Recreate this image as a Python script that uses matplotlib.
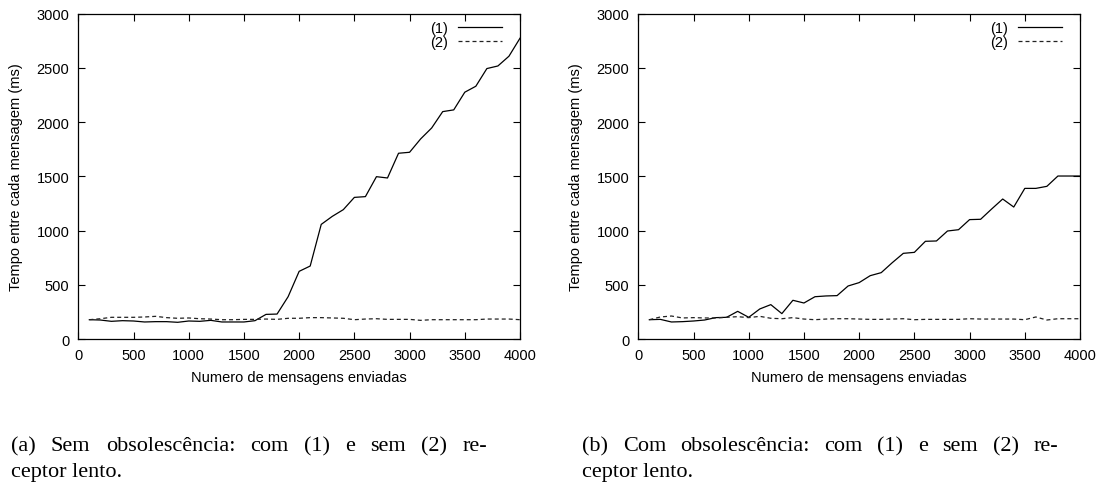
import matplotlib
matplotlib.use("Agg")
import matplotlib.pyplot as plt

msgs = list(range(100, 4001, 100))

sem_obs_1 = [178, 175, 163, 169, 166, 157, 160, 160, 154, 166,
             163, 172, 157, 157, 157, 169, 227, 230, 390, 624,
             673, 1057, 1131, 1193, 1306, 1313, 1497, 1485, 1713, 1722,
             1845, 1946, 2097, 2113, 2276, 2331, 2494, 2518, 2608, 2774]
sem_obs_2 = [178, 187, 200, 200, 200, 203, 209, 197, 191, 194,
             187, 184, 178, 178, 181, 181, 184, 181, 191, 191,
             197, 197, 194, 191, 178, 184, 187, 181, 181, 181,
             172, 178, 178, 178, 178, 178, 184, 184, 184, 178]

com_obs_1 = [178, 181, 157, 160, 166, 175, 197, 200, 255, 200,
             277, 317, 234, 357, 332, 390, 397, 400, 489, 520,
             584, 612, 704, 790, 799, 901, 904, 996, 1008, 1101,
             1104, 1199, 1291, 1217, 1389, 1389, 1408, 1503, 1503, 1503]
com_obs_2 = [178, 203, 212, 194, 197, 194, 194, 200, 206, 197,
             209, 191, 187, 197, 184, 178, 184, 187, 187, 184,
             181, 181, 184, 187, 178, 181, 181, 181, 181, 187,
             184, 184, 184, 184, 178, 203, 175, 187, 187, 187]

series_labels = ["(1)", "(2)"]
x_label = "Numero de mensagens enviadas"
y_label = "Tempo entre cada mensagem (ms)"
caption_lines = [
    ["(a) Sem obsolescência: com (1) e sem (2) re-", "ceptor lento."],
    ["(b) Com obsolescência: com (1) e sem (2) re-", "ceptor lento."],
]

plt.rcParams['font.family'] = ['Liberation Sans', 'DejaVu Sans']

fig = plt.figure(figsize=(10.99, 4.89), dpi=100)
W, H = 1099, 489
FS = 10.5

def ax_rect(x0, x1, ytop, ybot):
    return [x0 / W, (H - ybot) / H, (x1 - x0) / W, (ybot - ytop) / H]

axes = [fig.add_axes(ax_rect(78.3, 520, 14.7, 340)),
        fig.add_axes(ax_rect(638.3, 1080, 14.7, 340))]

data = [(sem_obs_1, sem_obs_2), (com_obs_1, com_obs_2)]

for ax, (s1, s2) in zip(axes, data):
    ax.plot(msgs, s1, color='black', lw=0.9, label=series_labels[0])
    ax.plot(msgs, s2, color='#222222', lw=0.9, ls=(0, (3.2, 2.4)), label=series_labels[1])
    ax.set_xlim(0, 4000)
    ax.set_ylim(0, 3000)
    ax.set_xticks(range(0, 4001, 500))
    ax.set_yticks(range(0, 3001, 500))
    ax.tick_params(direction='in', length=5, width=0.8, top=True, right=True,
                   labelsize=FS, pad=6.5, colors='black')
    for sp in ax.spines.values():
        sp.set_linewidth(0.9)
    ax.set_xlabel(x_label, fontsize=FS, va='center')
    ax.xaxis.set_label_coords(0.5, (340 - 378) / 325.3)
    ax.set_ylabel(y_label, fontsize=FS, va='center')
    ax.yaxis.set_label_coords((16 - 78.3) / 441.7, 0.5)
    ax.legend(loc='upper right', bbox_to_anchor=(0.959, 0.978), frameon=False,
              fontsize=FS, markerfirst=False, handlelength=3.0, handletextpad=0.7,
              labelspacing=0.0, borderaxespad=0.0, borderpad=0.0)

# justified captions (two-column paper style)
renderer = fig.canvas.get_renderer()
cap_family = ['Liberation Serif', 'DejaVu Serif']
CFS = 16
for (line1, line2), (x0, x1) in zip(caption_lines, [(11, 487), (582, 1058)]):
    words = line1.split(" ")
    texts = [fig.text(0, 1 - 451 / H, w, fontsize=CFS, family=cap_family,
                      va='baseline', ha='left') for w in words]
    widths = [t.get_window_extent(renderer).width for t in texts]
    gap = (x1 - x0 - sum(widths)) / (len(words) - 1)
    x = x0
    for t, w in zip(texts, widths):
        t.set_x(x / W)
        x += w + gap
    fig.text(x0 / W, 1 - 477 / H, line2, fontsize=CFS, family=cap_family,
             va='baseline', ha='left')

fig.savefig("out.png", dpi=100)
